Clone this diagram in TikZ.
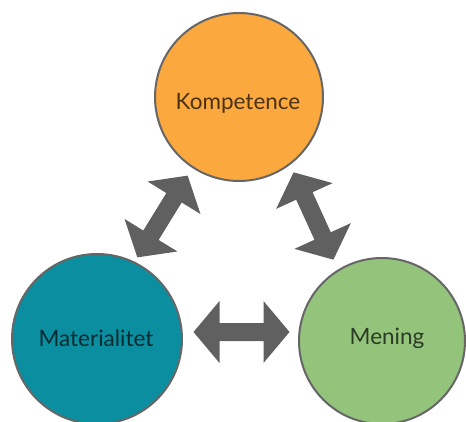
\documentclass[tikz,border=0pt]{standalone}
\usepackage{fontspec}
\setmainfont{Lato}
\definecolor{korange}{HTML}{FBA83F}
\definecolor{kteal}{HTML}{0B8FA0}
\definecolor{kgreen}{HTML}{94C47B}
\definecolor{kedge}{HTML}{666666}
\definecolor{karrow}{HTML}{606060}
\begin{document}
\begin{tikzpicture}[x=1pt,y=-1pt,
  circ/.style={circle,draw=kedge,line width=2pt,inner sep=0pt},
  lbl/.style={font=\fontsize{22.5}{24}\selectfont},
  dblarrow/.pic={\fill[karrow] (-48,0) -- (-22,31) -- (-22,9) -- (22,9) -- (22,31) -- (48,0) -- (22,-31) -- (22,-9) -- (-22,-9) -- (-22,-31) -- cycle;}]
\useasboundingbox (0,0) rectangle (466,422);
\node[circ,fill=korange,minimum size=168pt] (komp) at (239,97) {};
\node[circ,fill=kteal,minimum size=170pt] (mat) at (97,339) {};
\node[circ,fill=kgreen,minimum size=166pt] (men) at (382,341) {};
\node[lbl,text=korange!30!black] (tkomp) at (238,103) {Kompetence};
\node[lbl,text=kteal!30!black] (tmat) at (96,338) {Materialitet};
\node[lbl,text=kgreen!30!black] (tmen) at (387,338) {Mening};
\coordinate (a1) at (162.5,216.5);
\coordinate (a2) at (313.5,216);
\coordinate (a3) at (241.5,332);
\pic[rotate=58.4] at (a1) {dblarrow};
\pic[rotate=-65.5] at (a2) {dblarrow};
\pic at (a3) {dblarrow};
\end{tikzpicture}
\end{document}
